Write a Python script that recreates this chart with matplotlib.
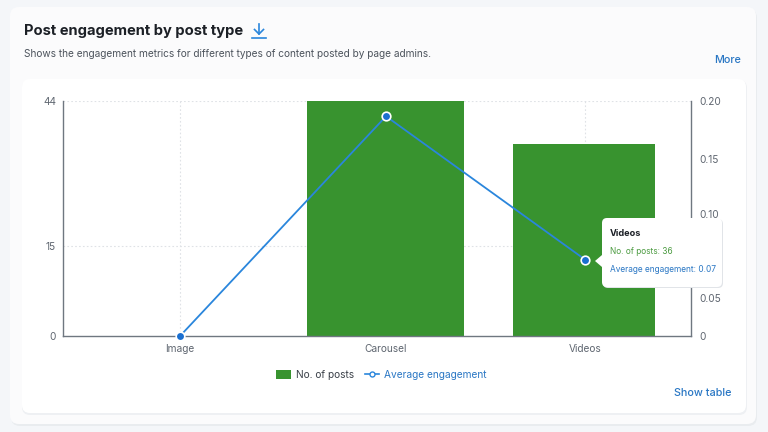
#!/usr/bin/env python3
"""Post engagement by post type: bars for post counts, line for average engagement."""

import matplotlib

matplotlib.use("Agg")
import matplotlib.pyplot as plt
from matplotlib.lines import Line2D
from matplotlib.patches import FancyBboxPatch, Polygon

CATEGORIES = ["Image", "Carousel", "Videos"]
POSTS = [0, 44, 36]
ENGAGEMENT = [0.0, 0.187, 0.065]

LEFT_TICK_LABELS = ["0", "15", "44"]
LEFT_TICK_POS = [0, 16.8, 44]
RIGHT_TICK_LABELS = ["0", "0.05", "0.10", "0.15", "0.20"]
RIGHT_TICK_POS = [0, 0.032, 0.104, 0.151, 0.20]

W, H = 768, 432
PLOT_L, PLOT_R, PLOT_T, PLOT_B = 63, 691, 101, 336

GREEN = "#38932f"
BLUE = "#2a86dc"
LINK = "#2a77c4"
DARK = "#1c2026"
GREY = "#5f6670"
AXIS = "#6f7780"

plt.rcParams["font.family"] = ["Inter", "DejaVu Sans"]


def card(ax, x0, y0, x1, y1, radius, face, edge="none", zorder=1):
    box = FancyBboxPatch(
        (x0 + radius, y0 + radius),
        x1 - x0 - 2 * radius,
        y1 - y0 - 2 * radius,
        boxstyle=f"round,pad={radius},rounding_size={radius}",
        fc=face,
        ec=edge,
        lw=0.8,
        zorder=zorder,
    )
    ax.add_patch(box)


def pixel_axes(fig, zorder):
    ax = fig.add_axes([0, 0, 1, 1], zorder=zorder)
    ax.set_xlim(0, W)
    ax.set_ylim(H, 0)
    ax.axis("off")
    ax.patch.set_alpha(0)
    return ax


fig = plt.figure(figsize=(W / 100, H / 100), dpi=100, facecolor="#f4f6f9")

# page furniture behind the chart
back = pixel_axes(fig, 0)
card(back, 11, 9, 757, 426, 9, "#e9ecef")
card(back, 10, 7, 756, 424, 9, "#fbfbfc")
card(back, 22, 80, 747, 415, 8, "#eef0f3")
card(back, 22, 79, 746, 413, 8, "#ffffff")
back.text(24, 30.5, "Post engagement by post type", fontsize=10.6, fontweight="bold",
          color=DARK, va="center", ha="left")
back.text(24, 54, "Shows the engagement metrics for different types of content posted by page admins.",
          fontsize=7.26, color="#4c535c", va="center", ha="left")
back.text(741, 60, "More", fontsize=7.8, color=LINK, fontweight="medium", va="center", ha="right")
back.text(732, 393, "Show table", fontsize=7.8, color=LINK, fontweight="medium", va="center", ha="right")
# download icon
back.plot([259, 259], [24, 34], color=BLUE, lw=1.2)
back.plot([254.5, 259, 263.5], [29.5, 34, 29.5], color=BLUE, lw=1.2)
back.plot([252, 266], [37.5, 37.5], color=BLUE, lw=1.2)

# chart
ax = fig.add_axes([PLOT_L / W, 1 - PLOT_B / H, (PLOT_R - PLOT_L) / W, (PLOT_B - PLOT_T) / H], zorder=1)
ax.patch.set_alpha(0)
x_pos = [0, 1.017, 2]
bar_pos = [x - 0.004 for x in x_pos]
bar_widths = [0.7, 0.777, 0.70]
ax.set_xlim(-0.578, 2.523)
ax.set_ylim(0, 44)
for y in LEFT_TICK_POS[1:]:
    ax.axhline(y, color="#dfe2e6", lw=0.8, ls=(0, (1.5, 2)), zorder=0)
for x in x_pos:
    ax.axvline(x, color="#dfe2e6", lw=0.8, ls=(0, (1.5, 2)), zorder=0)
bars = ax.bar(bar_pos, POSTS, width=bar_widths, color=GREEN, zorder=2, clip_on=False, label="No. of posts")
ax.set_xticks(x_pos, CATEGORIES)
ax.set_yticks(LEFT_TICK_POS, LEFT_TICK_LABELS)
ax.tick_params(axis="both", length=0, labelsize=7.3, labelcolor=GREY)
ax.tick_params(axis="x", pad=5.5)
ax.tick_params(axis="y", pad=5)
for name in ("top", "right"):
    ax.spines[name].set_visible(False)
for name in ("left", "bottom"):
    ax.spines[name].set_color(AXIS)
    ax.spines[name].set_linewidth(1.0)

ax2 = ax.twinx()
ax2.set_zorder(2)
ax2.patch.set_alpha(0)
ax2.set_ylim(0, 0.20)
ax2.set_yticks(RIGHT_TICK_POS, RIGHT_TICK_LABELS)
ax2.tick_params(axis="y", length=0, labelsize=7.3, labelcolor=GREY, pad=6)
for name in ("top", "left", "bottom"):
    ax2.spines[name].set_visible(False)
ax2.spines["right"].set_color(AXIS)
ax2.spines["right"].set_linewidth(1.0)
ax2.plot(x_pos, ENGAGEMENT, color=BLUE, lw=1.3, marker="o", ms=6.2,
         mfc="#1a6fd0", mec="white", mew=1.2, clip_on=False, label="Average engagement")

line_key = Line2D([], [], color=BLUE, lw=1.2, marker="o", ms=3.6, mfc="white", mec=BLUE, mew=1.0)
legend = fig.legend(
    [bars, line_key],
    ["No. of posts", "Average engagement"],
    loc="center",
    bbox_to_anchor=(381.5 / W, 1 - 375 / H),
    ncol=2,
    frameon=False,
    fontsize=7.3,
    handlelength=1.4,
    handleheight=1.0,
    handletextpad=0.5,
    columnspacing=1.1,
)
legend.get_texts()[0].set_color("#3a4048")
legend.get_texts()[1].set_color(LINK)
legend.set_zorder(6)

# tooltip for the Videos point
front = pixel_axes(fig, 5)
card(front, 603, 219, 723, 288, 5, "#e1e4e8", zorder=1)
card(front, 602, 218, 722, 287, 5, "#ffffff", zorder=2)
front.add_patch(Polygon([[602, 255], [595, 261], [602, 267]], fc="#ffffff", ec="none", zorder=3))
front.text(610, 233, "Videos", fontsize=6.6, fontweight="bold", color=DARK, va="center", zorder=4)
front.text(610, 251, "No. of posts: 36", fontsize=6.0, color="#4a9a3f", va="center", zorder=4)
front.text(610, 269, "Average engagement: 0.07", fontsize=6.0, color=LINK, va="center", zorder=4)

fig.savefig("out.png", dpi=100, facecolor=fig.get_facecolor())
